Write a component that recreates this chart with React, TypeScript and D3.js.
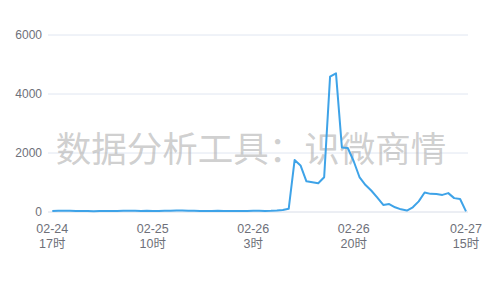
import React from "react";
import * as d3 from "d3";

// ---- data ----
const startLabel = { month: 2, day: 24, hour: 17 };
const hourCount = 71;
const categories: string[] = (() => {
  const out: string[] = [];
  let d = startLabel.day;
  let h = startLabel.hour;
  for (let i = 0; i < hourCount; i++) {
    out.push(`0${startLabel.month}-${d}\n${h}时`);
    h++;
    if (h === 24) { h = 0; d++; }
  }
  return out;
})();

const values: number[] = [
  30, 40, 45, 40, 30, 35, 30, 25, 30, 30,
  30, 35, 40, 45, 40, 35, 40, 35, 30, 40,
  45, 50, 50, 45, 40, 35, 30, 35, 40, 35,
  30, 30, 35, 35, 40, 40, 35, 40, 50, 70,
  110, 1760, 1580, 1040, 1010, 975, 1180, 4590, 4700, 2190,
  2170, 1720, 1170, 915, 720, 490, 240, 270, 160, 90,
  50, 160, 360, 660, 615, 610, 580, 640, 470, 440,
  20,
];

const labelIndices = [0, 17, 34, 51, 70];
const yTicks = [0, 2000, 4000, 6000];
const watermark = "数据分析工具：识微商情";

export default function App() {
  const W = 500, H = 300;
  const x = d3.scaleLinear().domain([0, hourCount - 1]).range([52.3, 466]);
  const y = d3.scaleLinear().domain([0, 6000]).range([212, 35]);
  const line = d3.line<number>().x((_, i) => x(i)).y((v) => y(v));
  const font = "'Liberation Sans', 'Noto Sans CJK SC', sans-serif";
  return (
    <svg width={W} height={H} style={{ position: "absolute", left: 0, top: 0 }}>
      <rect width={W} height={H} fill="#fff" />
      {yTicks.map((t) => (
        <g key={t}>
          <line x1={48} x2={468} y1={y(t)} y2={y(t)} stroke={t === 0 ? "#d8dde8" : "#e0e6f1"} strokeWidth={1} />
          <text x={42} y={y(t)} dy="0.35em" textAnchor="end" fontSize={12} fill="#6e7079" fontFamily={font}>{t}</text>
        </g>
      ))}
      <text x={251} y={150} dy="0.35em" textAnchor="middle" fontSize={35.5} fill="#b4b4b4" fillOpacity={0.65} fontFamily="'Noto Sans CJK SC', sans-serif">{watermark}</text>
      <path d={line(values) || ""} fill="none" stroke="#3ea3e8" strokeWidth={2} strokeLinejoin="round" />
      {labelIndices.map((i) => {
        const [a, b] = categories[i].split("\n");
        return (
          <g key={i}>
            <text x={x(i)} y={229} dy="0.35em" textAnchor="middle" fontSize={12.5} fill="#6e7079" fontFamily={font}>{a}</text>
            <text x={x(i)} y={244} dy="0.35em" textAnchor="middle" fontSize={12.5} fill="#6e7079" fontFamily={font}>{b}</text>
          </g>
        );
      })}
    </svg>
  );
}
